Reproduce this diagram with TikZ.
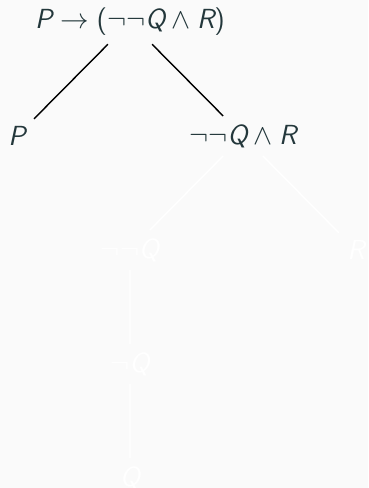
\documentclass[tikz,border=0pt]{standalone}
\usepackage{tikz}
\definecolor{mDarkTeal}{HTML}{23373B}
\definecolor{mBack}{HTML}{FAFAFA}
\newcommand{\sv}[1]{\mbox{\itshape #1}}

\begin{document}
\begin{tikzpicture}[x=0.42pt,y=-0.42pt,
		font=\sffamily\fontsize{11.6pt}{14pt}\selectfont,
		formula/.style={text=mDarkTeal},
		hidden/.style={text=white},
		branch/.style={draw=black,line width=0.6pt},
		ghost/.style={draw=white,line width=0.6pt}]
				\def\rx{130};
				\def\ry{22};
				\def\lev{114};
				\def\sib{113};
				\useasboundingbox[fill=mBack] (0,0) rectangle (368,488);
				% visible part
				\node[formula] (root) at (\rx,\ry) {$\sv{P}\rightarrow\mbox{(}\neg\neg\sv{Q}\wedge\sv{R}\mbox{)}$};
				\node[formula] (p) at ({\rx-\sib},{\ry+\lev}) {$\sv{P}$};
				\node[formula] (conj) at ({\rx+\sib},{\ry+\lev}) {$\neg\neg\sv{Q}\wedge\sv{R}$};
				\draw[branch] (root) -- (p)
				(root) -- (conj);
				% hidden part
				\node[hidden] (dneg) at (\rx,{\ry+2*\lev}) {$\neg\neg\sv{Q}$};
				\node[hidden] (r) at ({\rx+2*\sib},{\ry+2*\lev}) {$\sv{R}$};
				\node[hidden] (neg) at (\rx,{\ry+3*\lev}) {$\neg\sv{Q}$};
				\node[hidden] (q) at (\rx,{\ry+4*\lev}) {$\sv{Q}$};
				\draw[ghost] (conj) -- (dneg)
				(conj) -- (r)
				(dneg) -- (neg)
				(neg) -- (q);
			\end{tikzpicture}
\end{document}
